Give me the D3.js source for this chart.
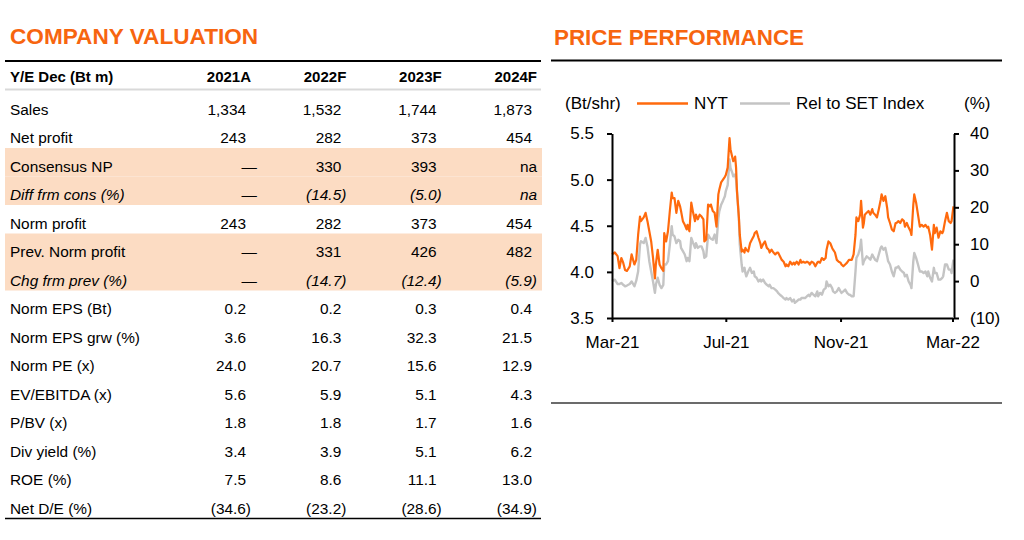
<!DOCTYPE html>
<html>
<head>
<meta charset="utf-8">
<script src="https://cdn.jsdelivr.net/npm/d3@7"></script>
<style>
  body { margin: 0; background: #fff; }
  svg { font-family: "Liberation Sans", Arial, sans-serif; }
</style>
</head>
<body>
<script>
// ---- table data ----
var years = ["2021A", "2022F", "2023F", "2024F"];
var rowLabels = ["Sales", "Net profit", "Consensus NP", "Diff frm cons (%)", "Norm profit",
  "Prev. Norm profit", "Chg frm prev (%)", "Norm EPS (Bt)", "Norm EPS grw (%)", "Norm PE (x)",
  "EV/EBITDA (x)", "P/BV (x)", "Div yield (%)", "ROE (%)", "Net D/E (%)"];
var sales = [1334, 1532, 1744, 1873];
var netProfit = [243, 282, 373, 454];
var consensusNP = [null, 330, 393, "na"];
var diffCons = [null, -14.5, -5.0, "na"];
var normProfit = [243, 282, 373, 454];
var prevNormProfit = [null, 331, 426, 482];
var chgPrev = [null, -14.7, -12.4, -5.9];
var normEPS = [0.2, 0.2, 0.3, 0.4];
var normEPSgrw = [3.6, 16.3, 32.3, 21.5];
var normPE = [24.0, 20.7, 15.6, 12.9];
var evEbitda = [5.6, 5.9, 5.1, 4.3];
var pbv = [1.8, 1.8, 1.7, 1.6];
var divYield = [3.4, 3.9, 5.1, 6.2];
var roe = [7.5, 8.6, 11.1, 13.0];
var netDE = [-34.6, -23.2, -28.6, -34.9];
var rowValues = [sales, netProfit, consensusNP, diffCons, normProfit, prevNormProfit, chgPrev,
  normEPS, normEPSgrw, normPE, evEbitda, pbv, divYield, roe, netDE];
var rowDecimals = [0, 0, 0, 1, 0, 0, 1, 1, 1, 1, 1, 1, 1, 1, 1];
var shadedRows = [2, 3, 5, 6];
var italicRows = [3, 6];

// ---- price chart data ----
var dates = ["2021-03-01","2021-03-04","2021-03-07","2021-03-09","2021-03-11","2021-03-13","2021-03-15","2021-03-17","2021-03-20","2021-03-22",
  "2021-03-25","2021-03-27","2021-03-29","2021-03-31","2021-04-01","2021-04-04","2021-04-06","2021-04-08","2021-04-10","2021-04-12",
  "2021-04-14","2021-04-16","2021-04-17","2021-04-19","2021-04-21","2021-04-23","2021-04-25","2021-04-26","2021-04-28","2021-04-30",
  "2021-05-02","2021-05-04","2021-05-05","2021-05-07","2021-05-09","2021-05-11","2021-05-13","2021-05-14","2021-05-16","2021-05-18",
  "2021-05-20","2021-05-21","2021-05-23","2021-05-25","2021-05-27","2021-05-29","2021-05-30","2021-06-01","2021-06-03","2021-06-05",
  "2021-06-07","2021-06-08","2021-06-10","2021-06-12","2021-06-14","2021-06-15","2021-06-17","2021-06-19","2021-06-21","2021-06-23",
  "2021-06-24","2021-06-26","2021-06-28","2021-06-30","2021-07-01","2021-07-03","2021-07-05","2021-07-06","2021-07-08","2021-07-09",
  "2021-07-11","2021-07-12","2021-07-13","2021-07-15","2021-07-16","2021-07-18","2021-07-19","2021-07-21","2021-07-22","2021-07-23",
  "2021-07-25","2021-07-27","2021-07-29","2021-07-31","2021-08-01","2021-08-03","2021-08-05","2021-08-07","2021-08-08","2021-08-10",
  "2021-08-12","2021-08-14","2021-08-16","2021-08-17","2021-08-19","2021-08-21","2021-08-23","2021-08-25","2021-08-26","2021-08-28",
  "2021-08-30","2021-09-01","2021-09-03","2021-09-04","2021-09-06","2021-09-08","2021-09-10","2021-09-12","2021-09-13","2021-09-15",
  "2021-09-17","2021-09-19","2021-09-20","2021-09-22","2021-09-24","2021-09-26","2021-09-28","2021-09-29","2021-10-01","2021-10-03",
  "2021-10-05","2021-10-07","2021-10-08","2021-10-10","2021-10-12","2021-10-14","2021-10-16","2021-10-17","2021-10-19","2021-10-21",
  "2021-10-23","2021-10-24","2021-10-26","2021-10-28","2021-10-30","2021-11-01","2021-11-02","2021-11-04","2021-11-06","2021-11-08",
  "2021-11-10","2021-11-11","2021-11-13","2021-11-15","2021-11-17","2021-11-18","2021-11-20","2021-11-22","2021-11-23","2021-11-25",
  "2021-11-26","2021-11-27","2021-11-29","2021-12-01","2021-12-03","2021-12-05","2021-12-06","2021-12-08","2021-12-10","2021-12-12",
  "2021-12-14","2021-12-15","2021-12-17","2021-12-19","2021-12-21","2021-12-22","2021-12-24","2021-12-26","2021-12-28","2021-12-30",
  "2021-12-31","2022-01-02","2022-01-04","2022-01-06","2022-01-08","2022-01-09","2022-01-11","2022-01-13","2022-01-15","2022-01-16",
  "2022-01-18","2022-01-19","2022-01-21","2022-01-23","2022-01-25","2022-01-27","2022-01-29","2022-01-31","2022-02-02","2022-02-03",
  "2022-02-05","2022-02-07","2022-02-09","2022-02-10","2022-02-12","2022-02-14","2022-02-16","2022-02-18","2022-02-19","2022-02-21",
  "2022-02-23","2022-02-25","2022-02-27","2022-02-28","2022-03-02"];
var nyt = [4.19,4.21,4.17,4.04,4.15,4.10,4.02,4.01,4.06,4.19,
  4.08,4.13,4.40,4.60,4.55,4.59,4.64,4.55,4.44,4.33,
  4.15,3.93,4.08,4.24,4.08,4.04,4.01,4.42,4.33,4.44,
  4.66,4.86,4.80,4.80,4.64,4.77,4.71,4.66,4.55,4.51,
  4.46,4.51,4.44,4.75,4.64,4.55,4.62,4.57,4.62,4.60,
  4.57,4.33,4.35,4.73,4.71,4.73,4.66,4.64,4.49,4.84,
  4.89,4.97,5.00,5.03,5.05,5.13,5.45,5.33,5.24,5.20,
  5.25,5.13,4.87,4.59,4.40,4.22,4.24,4.21,4.26,4.24,
  4.22,4.31,4.35,4.39,4.42,4.44,4.37,4.31,4.26,4.30,
  4.33,4.26,4.24,4.21,4.24,4.21,4.19,4.21,4.21,4.17,
  4.13,4.11,4.06,4.08,4.06,4.11,4.08,4.10,4.08,4.11,
  4.08,4.13,4.10,4.11,4.10,4.11,4.10,4.08,4.11,4.10,
  4.06,4.10,4.11,4.10,4.15,4.13,4.15,4.24,4.33,4.31,
  4.26,4.24,4.21,4.13,4.11,4.10,4.08,4.06,4.08,4.10,
  4.13,4.13,4.13,4.19,4.40,4.59,4.55,4.62,4.77,4.48,
  4.53,4.62,4.64,4.66,4.62,4.68,4.64,4.62,4.59,4.68,
  4.78,4.84,4.77,4.82,4.69,4.59,4.53,4.46,4.44,4.53,
  4.53,4.55,4.53,4.57,4.55,4.49,4.53,4.48,4.44,4.40,
  4.73,4.84,4.75,4.62,4.49,4.51,4.49,4.51,4.48,4.49,
  4.40,4.24,4.51,4.42,4.48,4.37,4.44,4.42,4.44,4.55,
  4.64,4.55,4.53,4.55,4.71];
var relSet = [0.0,0.4,-0.8,-0.8,-0.5,-1.0,-1.4,-1.2,-0.8,-0.1,
  -1.4,0.1,2.6,9.9,10.8,10.3,11.7,9.4,5.4,2.6,
  -0.1,-3.2,-1.0,0.9,-1.0,-1.9,-1.0,4.5,4.5,5.4,
  9.9,14.9,12.6,12.1,10.3,11.2,10.8,9.0,8.1,7.2,
  5.4,6.3,5.4,11.7,10.3,9.0,10.3,9.0,9.4,9.4,
  8.1,6.3,6.7,12.6,11.7,11.5,11.2,12.6,10.3,17.1,
  18.9,20.7,21.8,23.0,24.4,26.0,33.0,30.7,29.3,28.4,
  28.9,27.5,24.3,17.1,9.9,4.5,2.6,3.6,2.2,1.3,
  2.6,3.6,2.2,2.6,1.3,0.9,-0.1,0.4,-0.1,0.4,
  -0.5,-1.0,-1.4,-1.0,-1.9,-1.9,-2.3,-2.8,-3.2,-3.7,
  -4.1,-4.6,-5.0,-4.6,-5.0,-4.6,-5.5,-5.0,-5.9,-5.5,
  -5.0,-5.0,-4.6,-4.6,-4.6,-4.1,-3.7,-4.1,-3.2,-3.7,
  -4.1,-2.8,-4.1,-3.2,-3.7,-2.3,-1.9,-0.1,-1.4,-1.0,
  -1.9,-2.8,-3.2,-2.8,-1.9,-2.8,-3.2,-2.8,-2.3,-3.2,
  -3.7,-3.7,-4.1,-4.1,2.6,6.3,7.2,9.0,11.2,4.5,
  5.4,5.8,6.7,6.3,5.8,7.2,6.7,5.8,5.4,7.2,
  9.0,9.4,8.5,9.0,6.7,5.4,4.5,2.6,1.3,3.6,
  3.6,4.0,3.1,2.6,2.2,1.3,1.7,-0.1,-1.0,-1.9,
  5.4,7.6,6.3,4.5,2.6,2.6,2.2,2.6,1.3,2.6,
  0.9,-0.1,3.6,2.2,2.2,0.4,0.4,0.9,1.3,4.5,
  4.5,3.1,3.1,2.2,5.8];
var priceTicks = [3.5, 4.0, 4.5, 5.0, 5.5];
var relTicks = [-10, 0, 10, 20, 30, 40];
var xTickDates = ["2021-03-01", "2021-07-01", "2021-11-01", "2022-03-01"];

var orange = "#F7650F";
var orangeLine = "#FF6A0D";
var grey = "#C4C4C4";

var svg = d3.select("body").append("svg")
  .attr("width", 1024)
  .attr("height", 540);

// ================= COMPANY VALUATION table =================
svg.append("text").attr("x", 10).attr("y", 44)
  .attr("font-size", 22.6).attr("font-weight", "bold").attr("fill", orange)
  .text("COMPANY VALUATION");

var colX = d3.scalePoint().domain(years).range([246, 532]);
// each cell: text sits low, 19px below the cell top
var rowY = d3.scaleBand().domain(d3.range(rowLabels.length)).range([90, 517.5]).padding(0);

// shaded bands
svg.selectAll("rect.shade").data(shadedRows).enter().append("rect")
  .attr("class", "shade")
  .attr("x", 5).attr("width", 537)
  .attr("y", function(d) { return rowY(d) + 1; })
  .attr("height", rowY.bandwidth())
  .attr("fill", "#FCDCC3");

svg.append("line").attr("x1", 5).attr("x2", 541).attr("y1", 61).attr("y2", 61)
  .attr("stroke", "#000").attr("stroke-width", 2);
svg.append("line").attr("x1", 5).attr("x2", 541).attr("y1", 89.5).attr("y2", 89.5)
  .attr("stroke", "#D9D9D9").attr("stroke-width", 2);
svg.append("line").attr("x1", 5).attr("x2", 541).attr("y1", 518.5).attr("y2", 518.5)
  .attr("stroke", "#000").attr("stroke-width", 1.5);

svg.append("text").attr("x", 10).attr("y", 82)
  .attr("font-size", 15).attr("font-weight", "bold").text("Y/E Dec (Bt m)");
svg.selectAll("text.yr").data(years).enter().append("text")
  .attr("class", "yr")
  .attr("x", function(d) { return colX(d) + 5; })
  .attr("y", 82)
  .attr("text-anchor", "end")
  .attr("font-size", 15).attr("font-weight", "bold")
  .text(function(d) { return d; });

var rows = svg.selectAll("g.row").data(rowLabels).enter().append("g")
  .attr("class", "row")
  .attr("transform", function(d, i) { return "translate(0," + (rowY(i) + 24.5) + ")"; })
  .attr("font-size", 15.4)
  .attr("font-style", function(d, i) { return italicRows.indexOf(i) >= 0 ? "italic" : null; });

rows.append("text").attr("x", 10).text(function(d) { return d; });

rows.each(function(label, i) {
  var fmt = d3.format(rowDecimals[i] === 0 ? ",.0f" : ",." + rowDecimals[i] + "f");
  d3.select(this).selectAll("text.val").data(rowValues[i]).enter().append("text")
    .attr("class", "val")
    .attr("text-anchor", "end")
    .attr("x", function(v, j) {
      var x = colX(years[j]);
      if (v === null) return x + 11;
      if (typeof v === "string") return x + 5;
      return v < 0 ? x + 5 : x;
    })
    .text(function(v) {
      if (v === null) return "\u2014";
      if (typeof v === "string") return v;
      return v < 0 ? "(" + fmt(-v) + ")" : fmt(v);
    });
});

// ================= PRICE PERFORMANCE chart =================
svg.append("text").attr("x", 554).attr("y", 44.5)
  .attr("font-size", 22.4).attr("font-weight", "bold").attr("fill", orange)
  .text("PRICE PERFORMANCE");
svg.append("line").attr("x1", 551).attr("x2", 1002).attr("y1", 60.5).attr("y2", 60.5)
  .attr("stroke", "#000").attr("stroke-width", 2);
svg.append("line").attr("x1", 551).attr("x2", 1002).attr("y1", 403).attr("y2", 403)
  .attr("stroke", "#3a3a3a").attr("stroke-width", 1.5);

var parse = d3.timeParse("%Y-%m-%d");
var series = dates.map(function(d, i) { return { date: parse(d), p: nyt[i], r: relSet[i] }; });

var x = d3.scaleTime().domain([parse("2021-03-01"), parse("2022-03-01")]).range([612, 952.5]);
var yL = d3.scaleLinear().domain([3.5, 5.5]).range([318, 133.5]);
var yR = d3.scaleLinear().domain([-10, 40]).range([318, 133.5]);

var lineRel = d3.line().x(function(d) { return x(d.date); }).y(function(d) { return yR(d.r); });
var linePrice = d3.line().x(function(d) { return x(d.date); }).y(function(d) { return yL(d.p); });

svg.append("path").datum(series).attr("d", lineRel)
  .attr("fill", "none").attr("stroke", grey).attr("stroke-width", 2.4).attr("stroke-linejoin", "round");
svg.append("path").datum(series).attr("d", linePrice)
  .attr("fill", "none").attr("stroke", orangeLine).attr("stroke-width", 2.2).attr("stroke-linejoin", "round");

var axisStyle = function(g) {
  g.selectAll("path.domain").attr("stroke", "#000").attr("stroke-width", 2);
  g.selectAll(".tick line").attr("stroke", "#000").attr("stroke-width", 2);
  g.selectAll("text").attr("font-size", 17).attr("fill", "#000")
    .attr("font-family", "'Liberation Sans', Arial, sans-serif");
};

svg.append("g").attr("transform", "translate(612,0)")
  .call(d3.axisLeft(yL).tickValues(priceTicks).tickFormat(d3.format(".1f"))
    .tickSize(5).tickSizeOuter(0).tickPadding(13))
  .call(axisStyle);

svg.append("g").attr("transform", "translate(954,0)")
  .call(d3.axisRight(yR).tickValues(relTicks)
    .tickFormat(function(d) { return d < 0 ? "(" + (-d) + ")" : d; })
    .tickSize(5).tickSizeOuter(0).tickPadding(11))
  .call(axisStyle);

svg.append("g").attr("transform", "translate(0,318)")
  .call(d3.axisBottom(x).tickValues(xTickDates.map(parse)).tickFormat(d3.timeFormat("%b-%y"))
    .tickSize(4).tickSizeOuter(0).tickPadding(14))
  .call(axisStyle);

// legend
var legend = svg.append("g").attr("font-size", 17);
legend.append("text").attr("x", 565).attr("y", 109).text("(Bt/shr)");
legend.append("line").attr("x1", 637).attr("x2", 688).attr("y1", 103.5).attr("y2", 103.5)
  .attr("stroke", orangeLine).attr("stroke-width", 2.5);
legend.append("text").attr("x", 694).attr("y", 109).text("NYT");
legend.append("line").attr("x1", 740).attr("x2", 790).attr("y1", 103.5).attr("y2", 103.5)
  .attr("stroke", grey).attr("stroke-width", 2.5);
legend.append("text").attr("x", 796).attr("y", 109).text("Rel to SET Index");
legend.append("text").attr("x", 964).attr("y", 109).text("(%)");
</script>
</body>
</html>
